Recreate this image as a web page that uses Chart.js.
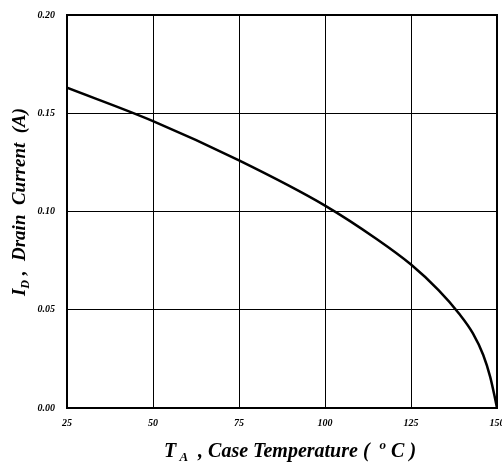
<!DOCTYPE html>
<html>
<head>
<meta charset="utf-8">
<script src="https://cdn.jsdelivr.net/npm/chart.js@4"></script>
<style>
  html, body { margin: 0; padding: 0; background: #fff; }
  #wrap { width: 502px; height: 470px; }
</style>
</head>
<body>
<div id="wrap"><canvas id="chart" width="502" height="470"></canvas></div>
<script>
// case temperature (°C) and drain current (A)
const temps   = [25, 50, 75, 100, 115, 125, 133, 139, 143, 146, 148, 149.3, 150];
const current = [0.163, 0.146, 0.126, 0.103, 0.086, 0.073, 0.060, 0.048, 0.038, 0.027, 0.016, 0.006, 0.0];
const xTicks = [25, 50, 75, 100, 125, 150];
const yTicks = [0.00, 0.05, 0.10, 0.15, 0.20];

const FONT = '"Liberation Serif", "Times New Roman", serif';

// draws text made of normal / sub / sup pieces, centred on (0,0)
function drawRich(ctx, parts, size) {
  const fontFor = p => `italic bold ${p.s ? Math.round(size * 0.65) : size}px ${FONT}`;
  let total = 0;
  parts.forEach(p => { ctx.font = fontFor(p); total += ctx.measureText(p.t).width; });
  let x = -total / 2;
  ctx.textBaseline = 'alphabetic';
  ctx.textAlign = 'left';
  parts.forEach(p => {
    ctx.font = fontFor(p);
    let dy = size * 0.35;
    if (p.s === 'sub') dy += size * 0.22;
    if (p.s === 'sup') dy -= size * 0.42;
    ctx.fillText(p.t, x, dy);
    x += ctx.measureText(p.t).width;
  });
}

const framePlugin = {
  id: 'frame',
  afterDraw(chart) {
    const {ctx, chartArea: a} = chart;
    ctx.save();
    ctx.strokeStyle = '#000';
    ctx.lineWidth = 2;
    ctx.strokeRect(a.left, a.top, a.right - a.left, a.bottom - a.top);
    ctx.fillStyle = '#000';
    // y title
    ctx.save();
    ctx.translate(18, 202);
    ctx.rotate(-Math.PI / 2);
    drawRich(ctx, [{t: 'I'}, {t: 'D', s: 'sub'}, {t: ' ,  Drain  Current  (A)'}], 19);
    ctx.restore();
    // x title
    ctx.save();
    ctx.translate(290, 450);
    drawRich(ctx, [{t: 'T'}, {t: ' A', s: 'sub'}, {t: '  , Case Temperature (  '}, {t: 'o', s: 'sup'}, {t: ' C )'}], 20);
    ctx.restore();
    ctx.restore();
  }
};

new Chart(document.getElementById('chart').getContext('2d'), {
  type: 'line',
  data: {
    datasets: [{
      data: temps.map((t, i) => ({x: t, y: current[i]})),
      borderColor: '#000',
      borderWidth: 2.5,
      pointRadius: 0,
      cubicInterpolationMode: 'monotone',
      fill: false
    }]
  },
  options: {
    responsive: false,
    animation: false,
    layout: {padding: {top: 15, right: 5, left: 0, bottom: 0}},
    plugins: {legend: {display: false}, tooltip: {enabled: false}},
    scales: {
      x: {
        type: 'linear', min: 25, max: 150,
        afterBuildTicks: s => { s.ticks = xTicks.map(v => ({value: v})); },
        afterFit: s => { s.height = 62; s.paddingLeft = 0; s.paddingRight = 0; },
        grid: {color: '#000', lineWidth: 1, drawTicks: false},
        border: {display: false},
        ticks: {
          color: '#000', padding: 9, maxRotation: 0,
          font: {family: FONT, size: 10, style: 'italic', weight: 'bold'},
          callback: v => String(v)
        }
      },
      y: {
        min: 0, max: 0.2,
        afterBuildTicks: s => { s.ticks = yTicks.map(v => ({value: v})); },
        afterFit: s => { s.width = 67; s.paddingTop = 0; s.paddingBottom = 0; },
        grid: {color: '#000', lineWidth: 1, drawTicks: false},
        border: {display: false},
        ticks: {
          color: '#000', padding: 12,
          font: {family: FONT, size: 10, style: 'italic', weight: 'bold'},
          callback: v => Number(v).toFixed(2)
        }
      }
    }
  },
  plugins: [framePlugin]
});
</script>
</body>
</html>
